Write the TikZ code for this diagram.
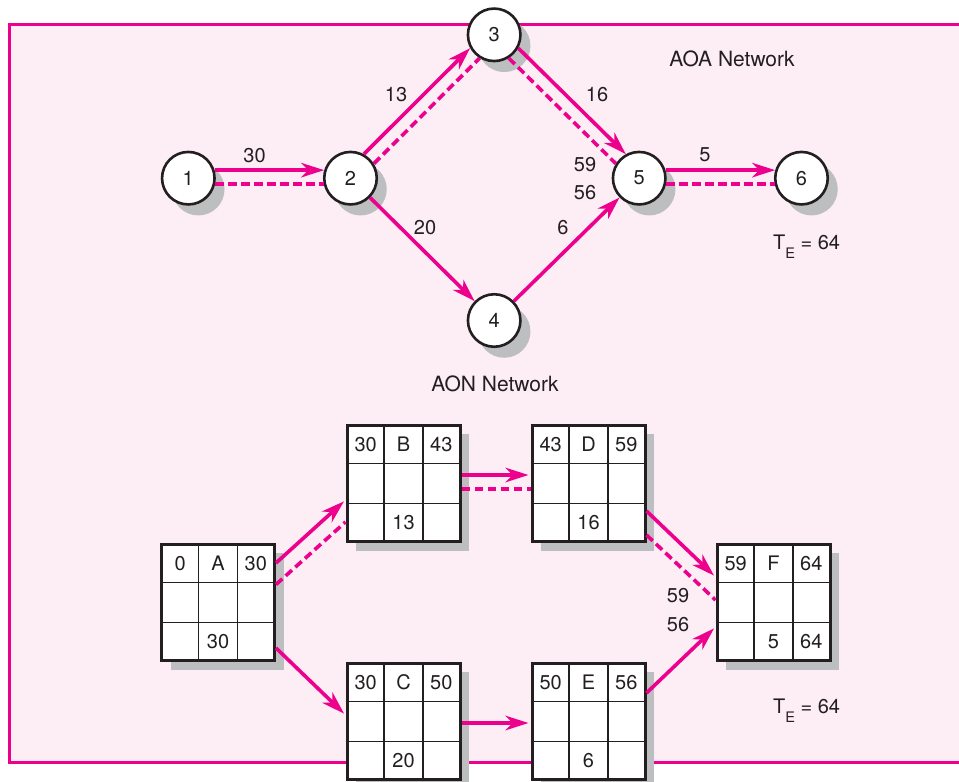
\documentclass[tikz,border=0pt]{standalone}
\usepackage{fontspec}
\setmainfont{TeX Gyre Heros}
\usetikzlibrary{arrows.meta,calc,shadows}
\definecolor{mag}{HTML}{EC008C}
\definecolor{pinkbg}{HTML}{FDEDF5}
\definecolor{shgray}{HTML}{BCBEC0}
\definecolor{txt}{HTML}{231F20}
\tikzset{
 lbl/.style={font=\fontsize{20}{22}\selectfont, text=txt, inner sep=0pt},
 ttl/.style={font=\fontsize{21}{24}\selectfont, text=txt, inner sep=0pt},
 evt/.style={circle, draw=txt, line width=2.6pt, fill=white, minimum size=52.5pt, inner sep=0pt,
   font=\fontsize{20}{22}\selectfont, text=txt,
   drop shadow={shadow xshift=10pt, shadow yshift=-11pt, fill=shgray, opacity=1}},
 aon/.style={rectangle, draw=txt, line width=3pt, fill=white, minimum width=113pt,
   minimum height=116.5pt, inner sep=0pt,
   drop shadow={shadow xshift=9pt, shadow yshift=-9pt, fill=shgray, opacity=1}},
 cellline/.style={draw=txt, line width=1.6pt},
 act/.style={draw=mag, line width=3.6pt, -{Stealth[length=23pt,width=14.5pt,inset=7pt]}},
 crit/.style={draw=mag, line width=3.6pt, dash pattern=on 8.5pt off 4.5pt},
 frame/.style={draw=mag, line width=3pt, fill=pinkbg},
}
\newcommand\aonbox[8]{%
 \node[aon] (#1) at (#2,#3) {};
 \draw[cellline] ($(#1.north west)!1/3!(#1.north east)$) -- ($(#1.south west)!1/3!(#1.south east)$);
 \draw[cellline] ($(#1.north west)!2/3!(#1.north east)$) -- ($(#1.south west)!2/3!(#1.south east)$);
 \draw[cellline] ($(#1.north west)!1/3!(#1.south west)$) -- ($(#1.north east)!1/3!(#1.south east)$);
 \draw[cellline] ($(#1.north west)!2/3!(#1.south west)$) -- ($(#1.north east)!2/3!(#1.south east)$);
 \node[lbl] (#1tl) at ($(#1.center)+(-37.8,-39.2)$) {#4};
 \node[lbl] (#1tm) at ($(#1.center)+(0,-39.2)$) {#5};
 \node[lbl] (#1tr) at ($(#1.center)+(37.8,-39.2)$) {#6};
 \node[lbl] (#1bm) at ($(#1.center)+(0,39.2)$) {#7};
 \node[lbl] (#1br) at ($(#1.center)+(37.8,39.2)$) {#8};
}
\begin{document}
\begin{tikzpicture}[x=1pt,y=-1pt]
\clip (0,0) rectangle (959,782);
\useasboundingbox (0,0) rectangle (959,782);
\draw[frame] (9.5,24.5) rectangle (990,762.3);

% titles
\node[ttl] (aoa) at (732,59) {AOA Network};
\node[ttl] (aon) at (495,384.2) {AON Network};

% AOA events
\node[evt] (n1) at (188.3,178.2) {1};
\node[evt] (n2) at (350.5,178.2) {2};
\node[evt] (n3) at (494.2,34.8) {3};
\node[evt] (n4) at (494.2,320.5) {4};
\node[evt] (n5) at (639.2,178.2) {5};
\node[evt] (n6) at (801.5,178.2) {6};

% AON boxes
\aonbox{A}{218}{602.5}{0}{A}{30}{30}{}
\aonbox{B}{403.5}{483.5}{30}{B}{43}{13}{}
\aonbox{C}{403.5}{721.5}{30}{C}{50}{20}{}
\aonbox{D}{588.5}{483.5}{43}{D}{59}{16}{}
\aonbox{E}{588.5}{721.5}{50}{E}{56}{6}{}
\aonbox{F}{773.5}{602.5}{59}{F}{64}{5}{64}

% AOA arrows
\draw[act] (n1.17) -- (n2.163);
\draw[crit] (n1.-12) -- (n2.192);
\draw[act] (n2.61) -- (n3.209);
\draw[crit] (n2.32) -- (n3.238);
\draw[act] (n3.-29) -- (n5.119);
\draw[crit] (n3.-58) -- (n5.148);
\draw[act] (n2) -- (n4);
\draw[act] (n4) -- (n5);
\draw[act] (n5.17) -- (n6.163);
\draw[crit] (n5.-12) -- (n6.192);

% AON arrows
\draw[act, shorten >=2pt] ([yshift=39.5pt]A.east) -- ([yshift=-16.5pt]B.west);
\draw[crit] ([yshift=18pt]A.east) -- ([yshift=-38.5pt]B.west);
\draw[act, shorten >=2pt] ([yshift=-45.5pt]A.east) -- ([yshift=6.5pt]C.west);
\draw[act, shorten >=2pt] ([yshift=8.5pt]B.east) -- ([yshift=8.5pt]D.west);
\draw[crit] ([yshift=-5.5pt]B.east) -- ([yshift=-5.5pt]D.west);
\draw[act, shorten >=2pt] ([yshift=-1.5pt]C.east) -- ([yshift=-1.5pt]E.west);
\draw[act, shorten >=2pt] ([yshift=-27.5pt]D.east) -- ([yshift=25.5pt]F.west);
\draw[crit] ([yshift=-51.5pt]D.east) -- ([yshift=2.5pt]F.west);
\draw[act, shorten >=2pt] ([yshift=28.5pt]E.east) -- ([yshift=-24.5pt]F.west);

% AOA labels
\node[lbl] (l30) at (254.5,155.5) {30};
\node[lbl] (l13) at (396,95) {13};
\node[lbl] (l16) at (597,95) {16};
\node[lbl] (l20) at (425,228) {20};
\node[lbl] (l6) at (563,228) {6};
\node[lbl] (l5) at (705,155) {5};
\node[lbl] (l59a) at (585,165) {59};
\node[lbl] (l56a) at (585,193) {56};
\node[lbl, anchor=base west] (te1) at (773,249.3) {T\raisebox{-9pt}{\fontsize{14.5}{14}\selectfont E} = 64};

% AON labels
\node[lbl] (l59b) at (678,596) {59};
\node[lbl] (l56b) at (678,625) {56};
\node[lbl, anchor=base west] (te2) at (773,713.3) {T\raisebox{-9pt}{\fontsize{14.5}{14}\selectfont E} = 64};
\end{tikzpicture}
\end{document}
